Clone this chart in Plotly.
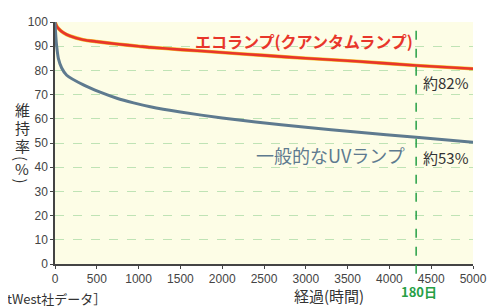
import plotly.graph_objects as go

# --- data ---
eco_hours = [0, 20, 50, 100, 180, 335, 500, 740, 1000, 1140, 1500, 2000, 2500, 3000, 3600, 4320, 5000]
eco_values = [100, 98.3, 97, 95.6, 94.2, 92.7, 91.9, 90.9, 90.0, 89.5, 88.6, 87.4, 86.2, 85.0, 83.8, 82.0, 80.7]

uv_hours = [0, 10, 20, 40, 80, 140, 340, 540, 740, 940, 1140, 1500, 2000, 2400, 3000, 3600, 4320, 5000]
uv_values = [100, 94, 90, 85, 81, 78, 74, 71, 68.5, 66.6, 65.0, 62.8, 60.3, 58.7, 56.5, 54.5, 52.4, 50.3]

x_ticks = [0, 500, 1000, 1500, 2000, 2500, 3000, 3500, 4000, 4500, 5000]
y_ticks = [0, 10, 20, 30, 40, 50, 60, 70, 80, 90, 100]
marker_hours = 4320  # 180 days

eco_label = "エコランプ(クアンタムランプ)"
uv_label = "一般的なUVランプ"
eco_end = "約82%"
uv_end = "約53%"
y_title_chars = ["維", "持", "率", "(", "%", ")"]

RED = "#E8362B"
BLUE = "#5E7A8F"
GREEN = "#27A046"
FONT = "Noto Sans CJK JP"

# page body has an 8px margin: figure origin sits at page (8, 8)
OFF = 8
W, H = 501 - OFF, 306 - OFF
L, R, T, B = 55 - OFF, 28, 15 - OFF, 42

fig = go.Figure()
fig.add_trace(go.Scatter(x=eco_hours, y=eco_values, mode="lines",
                         line=dict(color="#F2C22E", width=3.6, shape="spline", smoothing=0.6),
                         hoverinfo="skip", showlegend=False))
fig.add_trace(go.Scatter(x=eco_hours, y=eco_values, mode="lines",
                         line=dict(color=RED, width=2.6, shape="spline", smoothing=0.6),
                         showlegend=False))
fig.add_trace(go.Scatter(x=uv_hours, y=uv_values, mode="lines",
                         line=dict(color=BLUE, width=3, shape="spline", smoothing=0.6),
                         showlegend=False))

fig.add_shape(type="line", xref="x", yref="paper", x0=marker_hours, x1=marker_hours,
              y0=-0.04, y1=1.0, line=dict(color=GREEN, width=1.5, dash="dash"))

tickfont = dict(family="Liberation Sans", size=12, color="#444444")

fig.update_layout(
    width=W, height=H,
    margin=dict(l=L, r=R, t=T, b=B, pad=0),
    paper_bgcolor="white",
    plot_bgcolor="#FDFDE6",
    font=dict(family=FONT),
    xaxis=dict(range=[0, 5000], tickvals=x_ticks, showgrid=False, zeroline=False,
               showline=True, linecolor="#444444", linewidth=1.5,
               ticks="outside", ticklen=3, tickcolor="#444444", tickfont=tickfont),
    yaxis=dict(range=[0, 100], tickvals=y_ticks, showgrid=True, gridcolor="#BFE3B5",
               griddash="dash", gridwidth=1, zeroline=False,
               showline=True, linecolor="#444444", linewidth=1.5,
               ticks="outside", ticklen=3, tickcolor="#444444", tickfont=tickfont),
)

def px_to_paper(px, py):
    # page pixel -> paper coords of plot area (page 55..473, 15..264)
    return (px - 55) / 418, (264 - py) / 249

annos = [
    (eco_label, 304, 35, 16, RED, True, "center"),
    (uv_label, 330, 152, 18, BLUE, False, "center"),
    (eco_end, 446, 77, 15, "#333333", False, "center"),
    (uv_end, 446, 154, 15, "#333333", False, "center"),
    ("180日", 419, 292, 13, GREEN, True, "center"),
    ("経過(時間)", 329, 296, 15, "#333333", False, "center"),
    ("tWest社データ］", 108, 299, 13, "#333333", False, "right"),
]
for text, px, py, size, color, bold, anchor in annos:
    xp, yp = px_to_paper(px, py)
    fig.add_annotation(x=xp, y=yp, xref="paper", yref="paper",
                       text=("<b>" + text + "</b>") if bold else text,
                       showarrow=False, xanchor=anchor, yanchor="middle",
                       font=dict(size=size, color=color, family=FONT))

for ch, py in zip(y_title_chars, [105, 124, 142, 155, 166, 178]):
    xp, yp = px_to_paper(22, py)
    fig.add_annotation(x=xp, y=yp, xref="paper", yref="paper", text=ch, showarrow=False,
                       xanchor="center", yanchor="middle",
                       textangle=90 if ch in "()" else 0,
                       font=dict(size=15, color="#333333", family=FONT))

fig.write_html("out.html")
